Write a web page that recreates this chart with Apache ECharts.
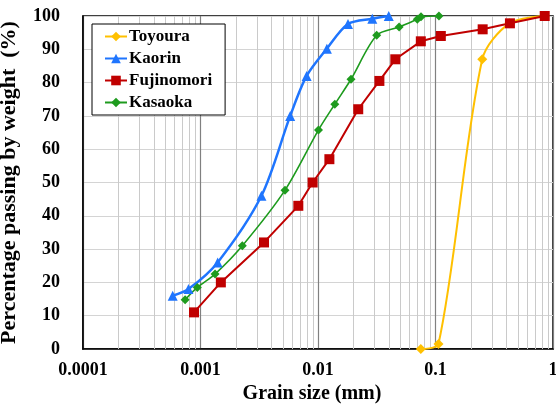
<!DOCTYPE html>
<html>
<head>
<meta charset="utf-8">
<script src="https://cdn.jsdelivr.net/npm/echarts@6/dist/echarts.min.js"></script>
<style>
  html, body { margin: 0; padding: 0; background: #fff; }
  #chart { width: 556px; height: 405px; }
</style>
</head>
<body>
<div id="chart"></div>
<script>
// Grain size distribution curves (semi-log)
const xTickLabels = ['0.0001', '0.001', '0.01', '0.1', '1'];
const yTickLabels = ['0', '10', '20', '30', '40', '50', '60', '70', '80', '90', '100'];

const toyouraSize = [0.075, 0.106, 0.25, 0.425, 0.85];
const toyouraPass = [0, 1.5, 87, 97.8, 100];

const kaorinSize = [0.00058, 0.00079, 0.0014, 0.0033, 0.0058, 0.0080, 0.0119, 0.018, 0.029, 0.040];
const kaorinPass = [16, 18, 26, 46, 70, 82, 90.2, 97.6, 99.2, 100];

const fujinomoriSize = [0.00088, 0.00149, 0.00347, 0.0068, 0.0090, 0.0125, 0.022, 0.0333, 0.0455, 0.075, 0.111, 0.252, 0.43, 0.85];
const fujinomoriPass = [11, 20, 32, 43, 50, 57, 72, 80.5, 87, 92.4, 94, 96, 97.8, 100];

const kasaokaSize = [0.00074, 0.00094, 0.00133, 0.00227, 0.00524, 0.0101, 0.0139, 0.0191, 0.0316, 0.049, 0.070, 0.0753, 0.107];
const kasaokaPass = [14.8, 18.5, 22.5, 31, 47.7, 65.8, 73.5, 81, 94.2, 96.7, 99, 99.8, 100];

const pair = (xs, ys) => xs.map((x, i) => [x, ys[i]]);

// minor vertical grid lines at 2..9 within each decade, spanning the y range
const minorGrid = [];
for (let e = -4; e < 0; e++) {
  for (let m = 2; m <= 9; m++) minorGrid.push([m * Math.pow(10, e), 100]);
}

const FONT = "'Liberation Serif', 'Times New Roman', serif";

const chart = echarts.init(document.getElementById('chart'), null, { renderer: 'canvas' });
chart.setOption({
  animation: false,
  backgroundColor: '#fff',
  grid: {
    left: 83, right: 3, top: 16, bottom: 56,
    containLabel: false, outerBoundsMode: 'none',
    show: true, borderColor: '#000', borderWidth: 1.5, backgroundColor: 'transparent'
  },
  legend: {
    data: ['Toyoura', 'Kaorin', 'Fujinomori', 'Kasaoka'],
    orient: 'vertical',
    left: 92, top: 24,
    padding: [4, 13, 4, 12],
    itemWidth: 22, itemHeight: 12, itemGap: 5,
    backgroundColor: '#fff',
    borderColor: '#000', borderWidth: 1,
    textStyle: { fontFamily: FONT, fontWeight: 'bold', fontSize: 17, color: '#000', padding: [0, 0, 0, -3] }
  },
  xAxis: {
    type: 'log', logBase: 10, min: 0.0001, max: 1,
    name: 'Grain size (mm)', nameLocation: 'middle', nameGap: 35,
    nameTextStyle: { fontFamily: FONT, fontWeight: 'bold', fontSize: 20, color: '#000', padding: [0, 12, 0, 0] },
    axisLine: { lineStyle: { color: '#000', width: 1.5 } },
    axisTick: { show: false },
    axisLabel: {
      fontFamily: FONT, fontWeight: 'bold', fontSize: 18, color: '#000', margin: 12,
      formatter: v => xTickLabels[Math.round(Math.log10(v)) + 4]
    },
    splitLine: { show: true, lineStyle: { color: '#808080', width: 1.2 } }
  },
  yAxis: {
    type: 'value', min: 0, max: 100, interval: 10,
    name: 'Percentage passing by weight  (%)', nameLocation: 'middle', nameGap: 63,
    nameTextStyle: { fontFamily: FONT, fontWeight: 'bold', fontSize: 22, color: '#000' },
    axisLine: { show: true, lineStyle: { color: '#000', width: 1.5 } },
    axisTick: { show: false },
    axisLabel: {
      fontFamily: FONT, fontWeight: 'bold', fontSize: 18, color: '#000', margin: 23,
      formatter: v => yTickLabels[Math.round(v / 10)]
    },
    splitLine: { show: true, lineStyle: { color: '#d4d4d4', width: 1 } }
  },
  series: [
    {
      name: 'minor-grid', type: 'custom', data: minorGrid, z: 1, silent: true,
      encode: { x: 0, y: 1 },
      renderItem: (params, api) => {
        const x = api.value(0);
        const top = api.coord([x, api.value(1)]);
        const bottom = api.coord([x, 0]);
        // snap to the pixel grid so the 1px line stays crisp
        const px = Math.round(top[0]) + 0.5;
        return {
          type: 'line',
          shape: { x1: px, y1: top[1], x2: px, y2: bottom[1] },
          style: { stroke: '#cacaca', lineWidth: 1, fill: null }
        };
      }
    },
    {
      name: 'Toyoura', type: 'line', data: pair(toyouraSize, toyouraPass),
      smooth: 0.3, color: '#FFC000',
      lineStyle: { width: 2 }, symbol: 'diamond', symbolSize: 10
    },
    {
      name: 'Kaorin', type: 'line', data: pair(kaorinSize, kaorinPass),
      smooth: 0.3, color: '#1F75FE',
      lineStyle: { width: 2.5 }, symbol: 'triangle', symbolSize: 10
    },
    {
      name: 'Fujinomori', type: 'line', data: pair(fujinomoriSize, fujinomoriPass),
      smooth: false, color: '#C00000',
      lineStyle: { width: 2 }, symbol: 'rect', symbolSize: 10
    },
    {
      name: 'Kasaoka', type: 'line', data: pair(kasaokaSize, kasaokaPass),
      smooth: 0.3, color: '#1E9B1E',
      lineStyle: { width: 1.6 }, symbol: 'diamond', symbolSize: 9
    }
  ]
});
</script>
</body>
</html>
